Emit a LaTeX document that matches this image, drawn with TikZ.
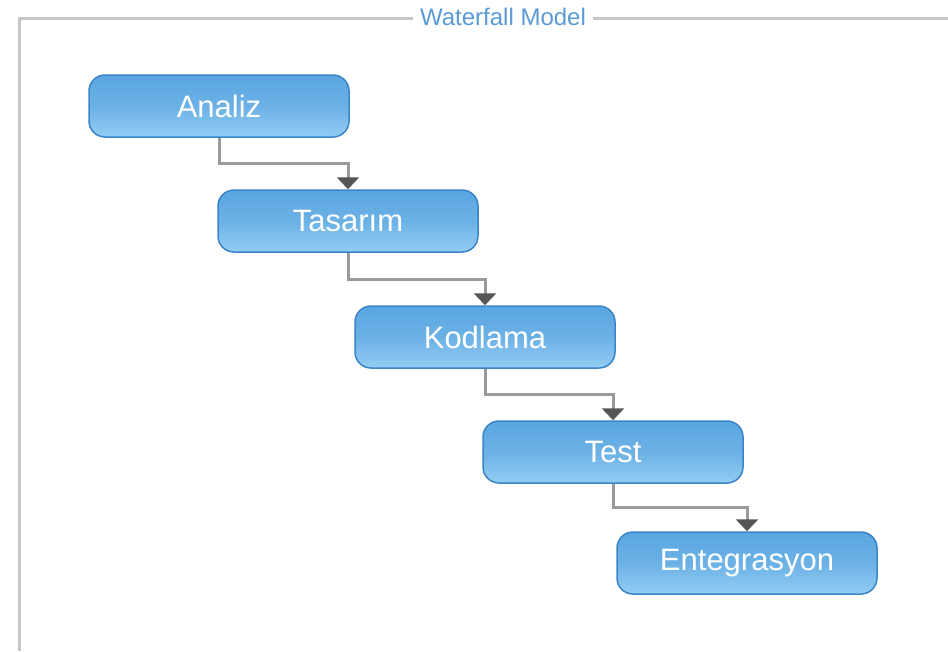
\documentclass[tikz,border=0pt]{standalone}
\usepackage{fontspec}
\setmainfont{Liberation Sans}
\usetikzlibrary{positioning, arrows.meta, calc}
\definecolor{boxtop}{HTML}{5AA6E0}
\definecolor{boxbot}{HTML}{94CCF3}
\definecolor{boxline}{HTML}{3A85C8}
\definecolor{titleblue}{HTML}{5B9BD5}
\definecolor{linkgray}{HTML}{9A9A9A}
\definecolor{tipgray}{HTML}{555555}
\tikzset{
  phase/.style={draw=boxline, line width=1.5pt, rounded corners=16pt, top color=boxtop, bottom color=boxbot, middle color=boxtop!70!boxbot, minimum width=260pt, minimum height=62pt, text=white, font=\fontsize{31}{36}\selectfont},
  flow/.style={draw=linkgray, line width=3pt, -{Triangle[width=22pt,length=12pt,color=tipgray]}}
}
\begin{document}
\begin{tikzpicture}[x=1pt,y=-1pt]
            \useasboundingbox (0,0) rectangle (948,651);
            \draw[gray!45, line width=3pt] (948,18) -| (19,651);
            \node[fill=white, text=titleblue, inner sep=7pt, font=\fontsize{24}{28}\selectfont] (title) at (503,17) {Waterfall Model};
            \node[phase] (analiz) at (219,106) {Analiz};
            \node[phase] (tasarim) at (348,221) {Tasarım};
            \node[phase] (kodlama) at (485,337) {Kodlama};
            \node[phase] (test) at (613,452) {Test};
            \node[phase] (entegrasyon) at (747,563) {Entegrasyon};
            \draw[flow] (analiz.south) |- ($(analiz.south)!.5!(tasarim.north)$) -| (tasarim.north);
            \draw[flow] (tasarim.south) |- ($(tasarim.south)!.5!(kodlama.north)$) -| (kodlama.north);
            \draw[flow] (kodlama.south) |- ($(kodlama.south)!.5!(test.north)$) -| (test.north);
            \draw[flow] (test.south) |- ($(test.south)!.5!(entegrasyon.north)$) -| (entegrasyon.north);
        \end{tikzpicture}
\end{document}
